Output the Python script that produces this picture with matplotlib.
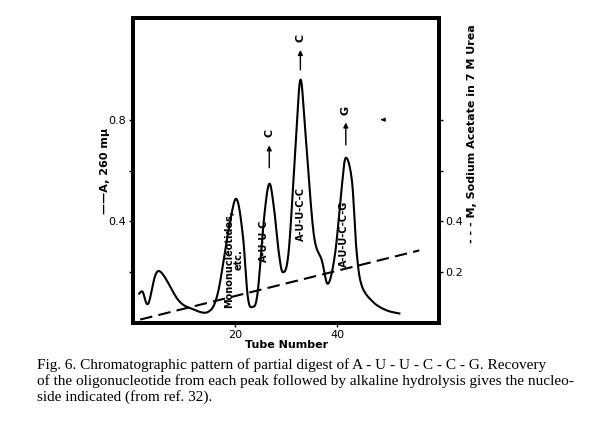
import matplotlib
matplotlib.use("Agg")
import matplotlib.pyplot as plt
import numpy as np

# absorbance trace
tube = [1.2, 1.9, 3.0, 5.0, 8.9, 11.5, 14.7, 16.6, 18.6, 20.2, 21.5, 22.5, 23.4, 24.4,
        25.7, 26.7, 27.6, 28.6, 29.4, 30.5, 31.8, 32.8, 33.8, 35.4, 37.0, 38.2, 39.6,
        40.9, 41.7, 42.9, 43.8, 44.8, 47.0, 49.6, 52.2]
a260 = [0.116, 0.123, 0.077, 0.205, 0.090, 0.057, 0.044, 0.116, 0.350, 0.489, 0.350,
        0.103, 0.064, 0.116, 0.417, 0.548, 0.457, 0.273, 0.200, 0.280, 0.678, 0.957,
        0.744, 0.353, 0.247, 0.155, 0.273, 0.535, 0.650, 0.560, 0.286, 0.149, 0.084,
        0.051, 0.038]
grad_tube = [1.4, 56.1]
grad_m = [0.014, 0.286]

peak_labels = ["Mononucleotides,\netc.", "A-U-U-C", "A-U-U-C-C", "A-U-U-C-C-G"]
peak_x = [19.8, 25.6, 33.0, 41.4]
peak_y = [0.25, 0.325, 0.43, 0.35]
arrow_x = [26.7, 32.8, 41.7]
arrow_lo = [0.60, 0.985, 0.69]
arrow_hi = [0.71, 1.085, 0.80]
arrow_nuc = ["C", "C", "G"]

# smooth the trace with a simple Catmull-Rom spline
def smooth(x, y, n=20):
    x = np.r_[x[0], x, x[-1]]
    y = np.r_[y[0], y, y[-1]]
    xs, ys = [], []
    t = np.linspace(0, 1, n, endpoint=False)
    for i in range(1, len(x) - 2):
        for arr, out in ((x, xs), (y, ys)):
            p0, p1, p2, p3 = arr[i-1:i+3]
            out.extend(0.5 * (2*p1 + (-p0 + p2)*t + (2*p0 - 5*p1 + 4*p2 - p3)*t**2
                              + (-p0 + 3*p1 - 3*p2 + p3)*t**3))
    xs.append(x[-2]); ys.append(y[-2])
    return xs, ys

fig = plt.figure(figsize=(6.1, 4.28), dpi=100)
ax = fig.add_axes([0.218, 0.245, 0.502, 0.713])
sx, sy = smooth(tube, a260)
ax.plot(sx, sy, color="black", lw=1.5)
ax.plot(grad_tube, grad_m, color="black", lw=1.5, dashes=(6, 3))
ax.set_xlim(0, 60)
ax.set_ylim(0, 1.2)
for s in ax.spines.values():
    s.set_linewidth(2.8)
ax.set_xticks([20, 40])
ax.set_yticks([0.2, 0.4, 0.6, 0.8])
ax.set_yticklabels(["", "0.4", "", "0.8"])
ax.tick_params(labelsize=8, width=1, length=3, pad=2)
ax.set_xlabel("Tube Number", fontsize=8, fontweight="bold", labelpad=0)
ax.set_ylabel("——A, 260 mμ", fontsize=8, fontweight="bold", labelpad=-1)

ax2 = ax.twinx()
ax2.set_ylim(0, 1.2)
ax2.set_yticks([0.2, 0.4, 0.6, 0.8])
ax2.set_yticklabels(["0.2", "0.4", "", ""])
ax2.tick_params(labelsize=8, width=1, length=3, pad=1)
ax2.set_ylabel("- - - M, Sodium Acetate in 7 M Urea", fontsize=8, fontweight="bold",
               rotation=90)
ax2.yaxis.set_label_coords(1.09, 0.62)
for s in ax2.spines.values():
    s.set_linewidth(2.8)

for lab, x, y in zip(peak_labels, peak_x, peak_y):
    ax.text(x, y, lab, rotation=90, ha="center", va="center", fontsize=7,
            fontweight="bold", linespacing=1.0)
for x, lo, hi, n in zip(arrow_x, arrow_lo, arrow_hi, arrow_nuc):
    ax.annotate("", xy=(x, hi), xytext=(x, lo),
                arrowprops=dict(arrowstyle="-|>", color="black", lw=1, mutation_scale=7))
    ax.text(x, hi + 0.02, n, rotation=90, ha="center", va="bottom", fontsize=8, fontweight="bold")
ax.annotate("", xy=(48.0, 0.8), xytext=(49.5, 0.8),
            arrowprops=dict(arrowstyle="-|>", color="black", lw=1, mutation_scale=5))

cap = ("Fig. 6. Chromatographic pattern of partial digest of A - U - U - C - C - G. Recovery\n"
       "of the oligonucleotide from each peak followed by alkaline hydrolysis gives the nucleo-\n"
       "side indicated (from ref. 32).")
fig.text(0.06, 0.055, cap, fontsize=11, family="Liberation Serif", linespacing=1.2, va="bottom")

fig.savefig("out.png", dpi=100)
